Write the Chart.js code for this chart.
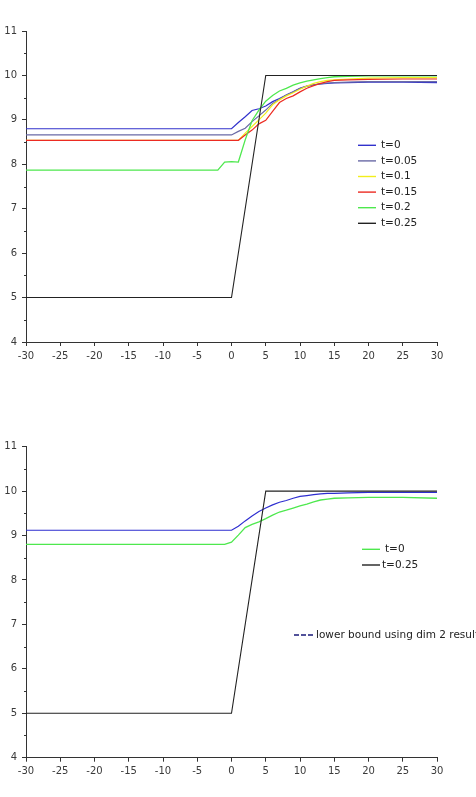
<!DOCTYPE html>
<html>
<head>
<meta charset="utf-8">
<script src="https://cdn.jsdelivr.net/npm/chart.js@4.4.1/dist/chart.umd.min.js"></script>
<style>
  body { margin: 0; background: #fff; width: 476px; height: 797px; overflow: hidden; }
  .box { position: absolute; left: 0; width: 476px; }
  #topBox { top: 0; height: 372px; }
  #botBox { top: 400px; height: 397px; }
</style>
</head>
<body>
<div class="box" id="topBox"><canvas id="chartTop"></canvas></div>
<div class="box" id="botBox"><canvas id="chartBot"></canvas></div>
<script>
// sample positions shared by the smooth curves
const xs = [-30, -2, -1, 0, 1, 2, 3, 4, 5, 6, 7, 8, 9, 10, 11, 12, 13, 14, 15, 17, 20, 25, 30];

// top chart
const t0   = [8.80, 8.80, 8.80, 8.80, 8.94, 9.07, 9.21, 9.25, 9.31, 9.41, 9.48, 9.56, 9.63, 9.71, 9.76, 9.79, 9.81, 9.82, 9.83, 9.84, 9.85, 9.85, 9.84];
const t005 = [8.66, 8.66, 8.66, 8.66, 8.74, 8.81, 8.96, 9.09, 9.22, 9.37, 9.46, 9.56, 9.63, 9.71, 9.76, 9.79, 9.81, 9.83, 9.84, 9.85, 9.86, 9.86, 9.86];
const t01  = [8.54, 8.54, 8.54, 8.54, 8.54, 8.70, 8.85, 9.00, 9.15, 9.34, 9.45, 9.54, 9.61, 9.69, 9.76, 9.82, 9.86, 9.89, 9.90, 9.92, 9.94, 9.95, 9.95];
const t015 = [8.54, 8.54, 8.54, 8.54, 8.54, 8.66, 8.77, 8.91, 8.99, 9.19, 9.39, 9.48, 9.54, 9.63, 9.71, 9.77, 9.82, 9.86, 9.89, 9.90, 9.91, 9.92, 9.92];
const t02  = [7.87, 7.87, 8.05, 8.06, 8.05, 8.55, 8.98, 9.22, 9.42, 9.55, 9.65, 9.71, 9.78, 9.83, 9.87, 9.90, 9.93, 9.95, 9.97, 9.98, 9.99, 9.99, 9.99];

// step profile (same in both charts)
const stepX = [-30, 0, 5, 30];
const stepY = [5, 5, 10, 10];

// bottom chart
const lowerBound = [9.12, 9.12, 9.12, 9.12, 9.21, 9.33, 9.44, 9.54, 9.62, 9.69, 9.75, 9.79, 9.84, 9.88, 9.90, 9.92, 9.94, 9.95, 9.95, 9.96, 9.97, 9.97, 9.97];
const t0b        = [8.80, 8.80, 8.80, 8.85, 9.01, 9.18, 9.25, 9.31, 9.38, 9.46, 9.53, 9.57, 9.62, 9.67, 9.71, 9.76, 9.80, 9.82, 9.84, 9.85, 9.86, 9.86, 9.84];

const yTicks = [4, 5, 6, 7, 8, 9, 10, 11];
const xTicks = [-30, -25, -20, -15, -10, -5, 0, 5, 10, 15, 20, 25, 30];

Chart.defaults.font.family = '"DejaVu Sans", sans-serif';
Chart.defaults.font.size = 10;
Chart.defaults.color = '#3a3a3a';

function pts(xv, yv) {
    return xv.map((x, i) => ({ x: x, y: yv[i] }));
}

function line(label, xv, yv, color, width, order) {
    return {
        label: label,
        data: pts(xv, yv),
        borderColor: color,
        borderWidth: width,
        pointRadius: 0,
        fill: false,
        tension: 0,
        order: order
    };
}

// short half-unit ticks on the y axis
const minorTicks = {
    id: "minorTicks",
    afterDraw(chart) {
        const ys = chart.scales.y;
        const ctx = chart.ctx;
        ctx.save();
        ctx.strokeStyle = "#333";
        ctx.lineWidth = 1;
        for (let v = ys.min + 0.5; v < ys.max; v += 1) {
            const py = Math.round(ys.getPixelForValue(v)) + 0.5;
            ctx.beginPath();
            ctx.moveTo(ys.right - 2, py);
            ctx.lineTo(ys.right, py);
            ctx.stroke();
        }
        ctx.restore();
    }
};

// legend drawn inside the plot, like the original
const floatLegend = {
    id: "floatLegend",
    afterDraw(chart, args, opts) {
        const ctx = chart.ctx;
        const a = chart.chartArea;
        ctx.save();
        ctx.font = '10.5px "DejaVu Sans"';
        ctx.textBaseline = "middle";
        ctx.textAlign = "left";
        ctx.fillStyle = "#222";
        opts.items.forEach(it => {
            const ds = chart.data.datasets[it.index];
            const x = a.left + it.x;
            const y = a.top + it.y;
            ctx.strokeStyle = it.color || ds.borderColor;
            ctx.lineWidth = 1.4;
            ctx.setLineDash(it.dash || []);
            ctx.beginPath();
            ctx.moveTo(x, y);
            ctx.lineTo(x + it.len, y);
            ctx.stroke();
            ctx.setLineDash([]);
            ctx.fillText(ds.label, x + it.len + it.gap, y);
        });
        ctx.restore();
    }
};

function makeOptions(padTop, padBottom, legendItems) {
    return {
        responsive: true,
        maintainAspectRatio: false,
        animation: false,
        layout: { padding: { top: padTop, right: 39, bottom: padBottom, left: 0 } },
        plugins: {
            legend: { display: false },
            tooltip: { enabled: false },
            floatLegend: { items: legendItems }
        },
        scales: {
            x: {
                type: "linear",
                min: xTicks[0],
                max: xTicks[xTicks.length - 1],
                afterBuildTicks: s => { s.ticks = xTicks.map(v => ({ value: v })); },
                ticks: { padding: 4, maxRotation: 0, autoSkip: false },
                grid: { drawOnChartArea: false, tickLength: 4, color: "#333" },
                border: { color: "#333" },
                afterFit: s => { s.height = 30; }
            },
            y: {
                type: "linear",
                min: yTicks[0],
                max: yTicks[yTicks.length - 1],
                afterBuildTicks: s => { s.ticks = yTicks.map(v => ({ value: v })); },
                ticks: { padding: 5, autoSkip: false },
                grid: { drawOnChartArea: false, tickLength: 4, color: "#333" },
                border: { color: "#333" },
                afterFit: s => { s.width = 26; }
            }
        }
    };
}

new Chart(document.getElementById("chartTop"), {
    type: "line",
    data: {
        datasets: [
            line("t=0", xs, t0, "#3232cc", 1.2, 6),
            line("t=0.05", xs, t005, "#6a6aa6", 1.2, 5),
            line("t=0.1", xs, t01, "#f2ee1c", 1.2, 4),
            line("t=0.15", xs, t015, "#ec2b22", 1.2, 3),
            line("t=0.2", xs, t02, "#4ee84e", 1.3, 2),
            line("t=0.25", stepX, stepY, "#222222", 1.1, 1)
        ]
    },
    options: makeOptions(31, 0, [0, 1, 2, 3, 4, 5].map(i => ({
        index: i, x: 332, y: 114.3 + i * 15.6, len: 18, gap: 5
    }))),
    plugins: [minorTicks, floatLegend]
});

new Chart(document.getElementById("chartBot"), {
    type: "line",
    data: {
        datasets: [
            line("lower bound using dim 2 result", xs, lowerBound, "#2e2ed0", 1.2, 3),
            line("t=0", xs, t0b, "#4ee84e", 1.3, 2),
            line("t=0.25", stepX, stepY, "#222222", 1.1, 1)
        ]
    },
    options: makeOptions(46.7, 9.3, [
        { index: 1, x: 336, y: 102.6, len: 18, gap: 5 },
        { index: 2, x: 336, y: 118.3, len: 18, gap: 2 },
        { index: 0, x: 268, y: 188.3, len: 21, gap: 1, color: "#1a1a7a", dash: [5, 2] }
    ]),
    plugins: [minorTicks, floatLegend]
});
</script>
</body>
</html>
